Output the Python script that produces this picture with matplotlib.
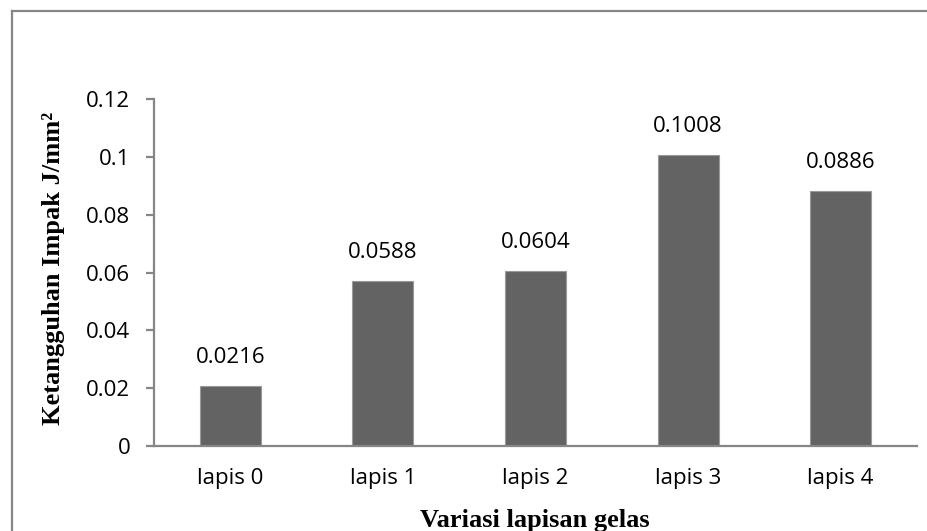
import matplotlib
matplotlib.use("Agg")
import matplotlib.pyplot as plt
from matplotlib.lines import Line2D

# data
categories = ["lapis 0", "lapis 1", "lapis 2", "lapis 3", "lapis 4"]
bar_heights = [0.0207, 0.0570, 0.0606, 0.1007, 0.0883]
value_labels = ["0.0216", "0.0588", "0.0604", "0.1008", "0.0886"]
y_ticks = [0, 0.02, 0.04, 0.06, 0.08, 0.1, 0.12]
y_tick_labels = ["0", "0.02", "0.04", "0.06", "0.08", "0.1", "0.12"]

axis_grey = "#868686"
tick_font = "Open Sans"
title_font = "Liberation Serif"

fig = plt.figure(figsize=(9.28, 5.31), dpi=100)
ax = fig.add_axes([0.166, 0.160, 0.822, 0.6536])

x = range(len(categories))
ax.bar(x, bar_heights, width=0.4, color="#636363", edgecolor="#9a9a9a", linewidth=0.8, zorder=2)

for xi, h, lab in zip(x, bar_heights, value_labels):
    ax.annotate(lab, (xi, h), xytext=(0, 13), textcoords="offset points",
                ha="center", va="bottom", fontsize=16, family=tick_font)

ax.set_xlim(-0.5, len(categories) - 0.5)
ax.set_ylim(0, 0.12)
ax.set_xticks(list(x))
ax.set_xticklabels(categories, fontsize=16, family=tick_font)
ax.set_yticks(y_ticks)
ax.set_yticklabels(y_tick_labels, fontsize=16, family=tick_font)

for side in ["top", "right"]:
    ax.spines[side].set_visible(False)
for side in ["left", "bottom"]:
    ax.spines[side].set_color(axis_grey)
    ax.spines[side].set_linewidth(1.6)

ax.tick_params(axis="x", length=0, pad=16)
ax.tick_params(axis="y", direction="out", length=6, width=1.6, color=axis_grey, pad=11)

# axis titles
fig.text(54 / 928, 1 - 268 / 531, "Ketangguhan Impak J/mm²", rotation=90,
         ha="center", va="center", fontsize=19, fontweight="bold", family=title_font)
fig.text(535 / 928, 1 - 527 / 531, "Variasi lapisan gelas", ha="center", va="baseline",
         fontsize=19, fontweight="bold", family=title_font)

# outer chart border (left and top edges visible)
bx = 12 / 928
by = 1 - 10.5 / 531
fig.add_artist(Line2D([bx, bx], [0, by], transform=fig.transFigure, color=axis_grey, lw=1.6))
fig.add_artist(Line2D([bx, 1], [by, by], transform=fig.transFigure, color=axis_grey, lw=1.6))

fig.savefig("out.png", dpi=100)
